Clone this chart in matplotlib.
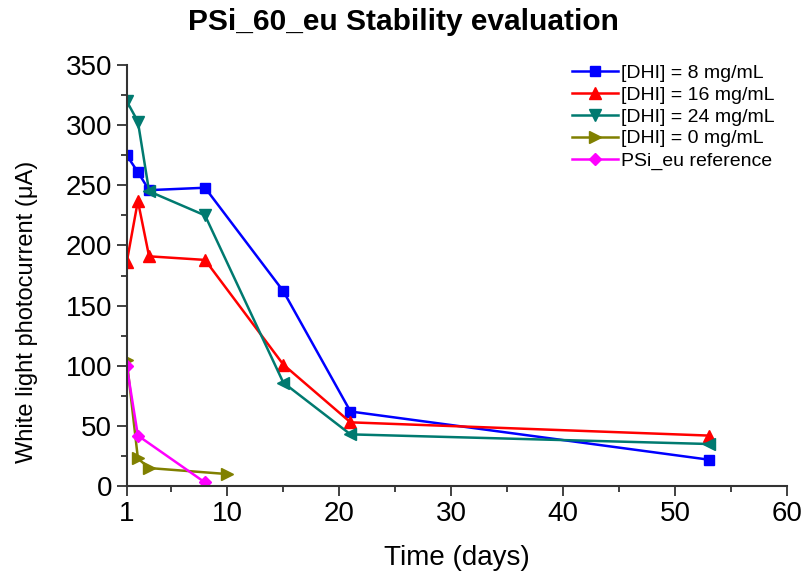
import numpy as np
import matplotlib.pyplot as plt
from matplotlib.ticker import MultipleLocator

plt.rcParams['font.family'] = ['Liberation Sans', 'DejaVu Sans']

# Days and white light photocurrent (uA) per sample
days_8 = [1, 2, 3, 8, 15, 21, 53]
cur_8 = [275, 261, 246, 248, 162, 62, 22]

days_16 = [1, 2, 3, 8, 15, 21, 53]
cur_16 = [186, 237, 191, 188, 101, 53, 42]

days_24 = [1, 2, 3, 8, 15, 21, 53]
cur_24 = [320, 303, 245, 225, 86, 43, 35]

days_0 = [1, 2, 3, 10]
cur_0 = [105, 23, 15, 10]

days_ref = [1, 2, 8]
cur_ref = [100, 42, 3]

fig = plt.figure(figsize=(8.07, 5.78), dpi=100)
ax = fig.add_axes([0.157, 0.159, 0.818, 0.7285])

lw = 1.8
ax.plot(days_8, cur_8, color='#0000FF', lw=lw, marker='s', ms=7,
        label='[DHI] = 8 mg/mL')
ax.plot(days_16, cur_16, color='#FF0000', lw=lw, marker='^', ms=8,
        label='[DHI] = 16 mg/mL')
# teal series: legend uses 'v', some points drawn as '<' in the original
ax.plot(days_24, cur_24, color='#007A70', lw=lw, marker='v', ms=8,
        markevery=[0, 1, 3], label='[DHI] = 24 mg/mL')
ax.plot(days_24, cur_24, color='#007A70', lw=0, marker='<', ms=8,
        markevery=[2, 4, 5, 6])
ax.plot(days_0, cur_0, color='#808000', lw=lw, marker='>', ms=8,
        label='[DHI] = 0 mg/mL')
ax.plot(days_ref, cur_ref, color='#FF00FF', lw=lw, marker='D', ms=6,
        label='PSi_eu reference')

ax.set_xlim(1, 60)
ax.set_ylim(0, 350)
ax.set_xticks([1, 10, 20, 30, 40, 50, 60])
ax.xaxis.set_minor_locator(MultipleLocator(5))
ax.yaxis.set_major_locator(MultipleLocator(50))
ax.yaxis.set_minor_locator(MultipleLocator(25))

for s in ['top', 'right']:
    ax.spines[s].set_visible(False)
for s in ['left', 'bottom']:
    ax.spines[s].set_linewidth(1.5)
    ax.spines[s].set_color('#333333')

ax.tick_params(which='major', direction='out', length=7, width=1.3,
               labelsize=20, colors='#333333', labelcolor='black')
ax.tick_params(which='minor', direction='out', length=4, width=1.3,
               colors='#333333')

ax.set_xlabel('Time (days)', fontsize=20)
ax.xaxis.set_label_coords(0.5, -0.14)
ax.set_ylabel('White light photocurrent (μA)', fontsize=17)
ax.yaxis.set_label_coords(-0.135, 0.413)
fig.text(0.5, 1 - 22 / 578, 'PSi_60_eu Stability evaluation', fontsize=21.5,
         fontweight='bold', ha='center', va='center')

fig.legend(loc='upper right', frameon=False, fontsize=14,
           handlelength=2.4, handletextpad=0.15, labelspacing=0.22,
           borderpad=0, borderaxespad=0,
           bbox_to_anchor=(0.960, 0.889))

fig.savefig('out.png', dpi=100)
